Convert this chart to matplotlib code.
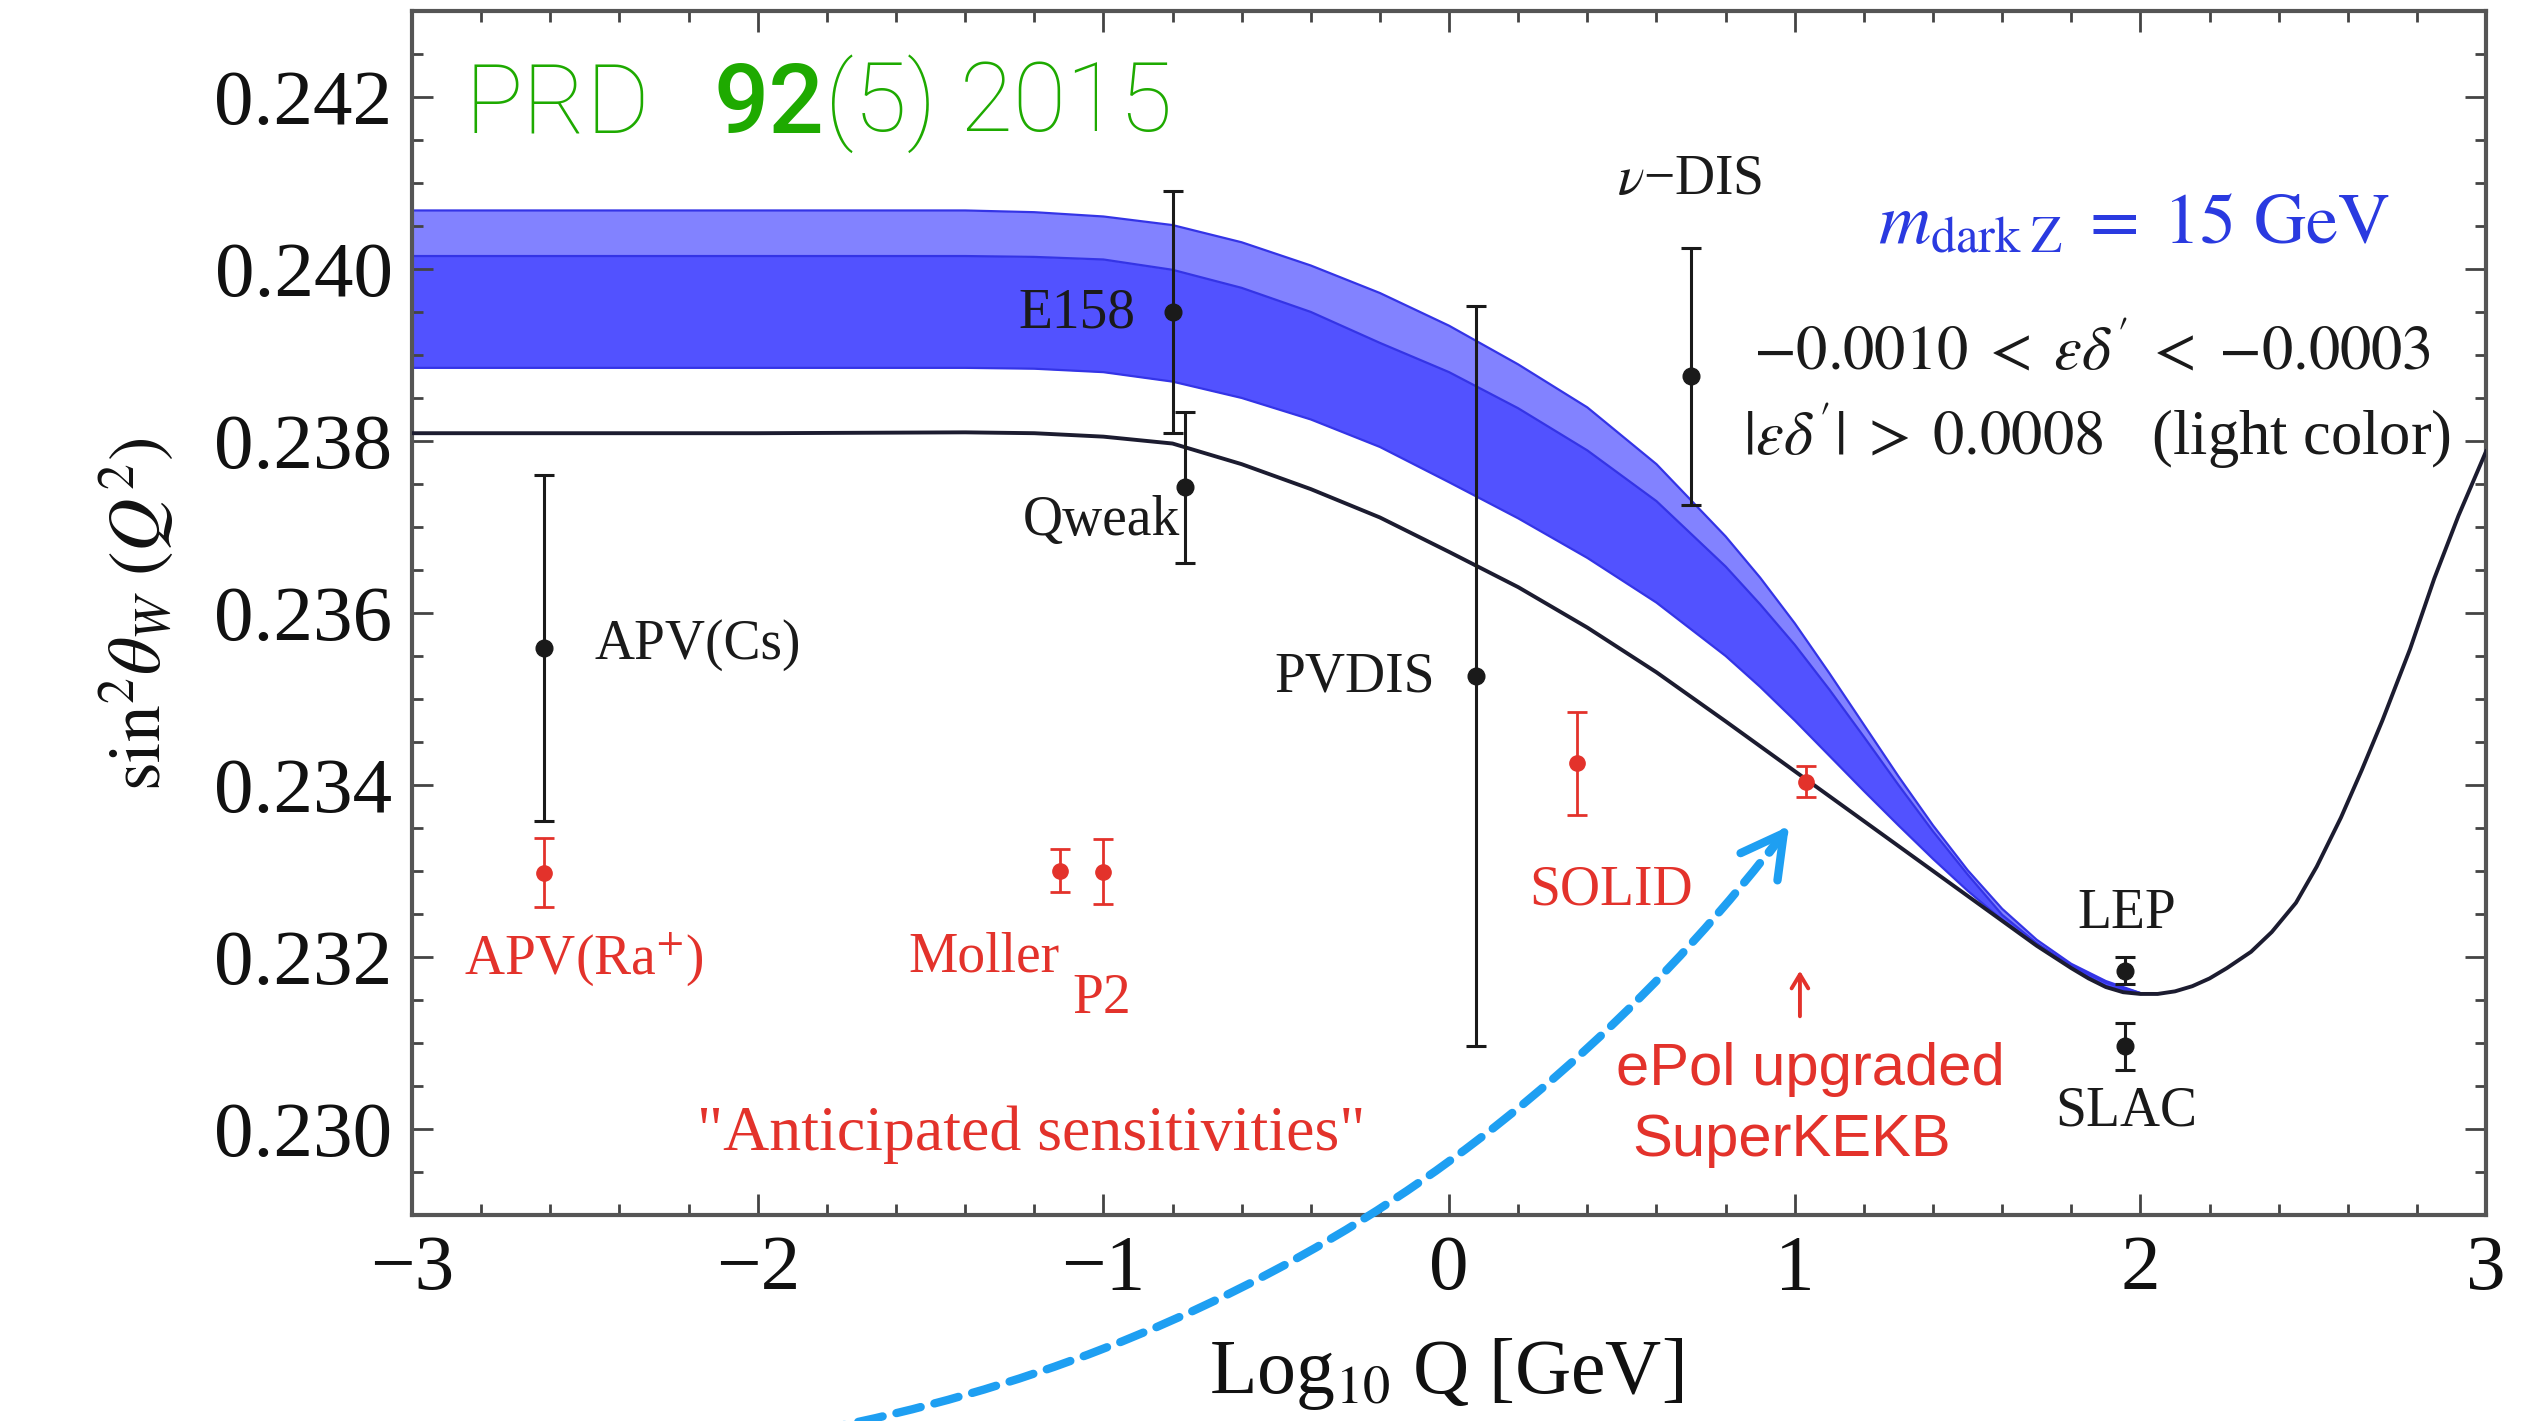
import matplotlib
matplotlib.use("Agg")
import matplotlib.pyplot as plt
from matplotlib.ticker import MultipleLocator, FormatStrFormatter

plt.rcParams["font.family"] = ["Liberation Serif", "DejaVu Serif"]
plt.rcParams["mathtext.fontset"] = "stix"
plt.rcParams["axes.unicode_minus"] = True

# ---------------- data ----------------
# Standard-model running of sin^2(theta_W) vs log10 Q
curve_x = [-3.0, -2.0, -1.4, -1.2, -1.0, -0.8, -0.6, -0.4, -0.2, 0.0, 0.2,
           0.4, 0.6, 0.8, 1.0, 1.2, 1.4, 1.6, 1.7, 1.8, 1.85, 1.9, 1.95,
           2.0, 2.05, 2.1, 2.15, 2.2, 2.25, 2.32, 2.38, 2.45, 2.51, 2.58,
           2.64, 2.70, 2.78, 2.85, 2.92, 3.0]
curve_y = [0.23809, 0.23809, 0.23810, 0.23809, 0.23805, 0.23797, 0.23773,
           0.23744, 0.23711, 0.23671, 0.23630, 0.23583, 0.23531, 0.23474,
           0.23416, 0.23358, 0.23300, 0.23242, 0.23213, 0.23187, 0.23175,
           0.23165, 0.23159, 0.23157, 0.23157, 0.23160, 0.23166, 0.23175,
           0.23187, 0.23206, 0.23229, 0.23263, 0.23305, 0.23362, 0.23417,
           0.23475, 0.23558, 0.23640, 0.23713, 0.23788]

# dark-Z band (dark colour: lower..middle, light colour: middle..upper)
band_x = [-3.0, -1.4, -1.2, -1.0, -0.8, -0.6, -0.4, -0.2, 0.0, 0.2, 0.4,
          0.6, 0.8, 0.9, 1.0, 1.1, 1.2, 1.3, 1.4, 1.5, 1.6, 1.7, 1.8, 1.9,
          2.0]
band_lo = [0.23885, 0.23885, 0.23884, 0.23880, 0.23869, 0.23850, 0.23825,
           0.23793, 0.23752, 0.23710, 0.23664, 0.23612, 0.23550, 0.23514,
           0.23475, 0.23434, 0.23393, 0.23353, 0.23314, 0.23277, 0.23243,
           0.23214, 0.23188, 0.23166, 0.23157]
band_mid = [0.24015, 0.24015, 0.24014, 0.24011, 0.23999, 0.23978, 0.23950,
            0.23914, 0.23880, 0.23838, 0.23789, 0.23730, 0.23654, 0.23610,
            0.23563, 0.23511, 0.23456, 0.23400, 0.23346, 0.23296, 0.23249,
            0.23216, 0.23190, 0.23170, 0.23158]
band_hi = [0.24068, 0.24068, 0.24066, 0.24061, 0.24051, 0.24031, 0.24004,
           0.23972, 0.23934, 0.23889, 0.23839, 0.23773, 0.23689, 0.23641,
           0.23588, 0.23530, 0.23470, 0.23410, 0.23353, 0.23301, 0.23256,
           0.23220, 0.23192, 0.23172, 0.23158]

# existing measurements (black)
meas_names = ["APV(Cs)", "E158", "Qweak", "PVDIS", "$\\nu$\u2212DIS", "LEP", "SLAC"]
meas_x = [-2.617, -0.80, -0.765, 0.079, 0.699, 1.955, 1.955]
meas_y = [0.23559, 0.23950, 0.23746, 0.23527, 0.23875, 0.23184, 0.23096]
meas_err = [0.00201, 0.00141, 0.00088, 0.00430, 0.00149, 0.00016, 0.00027]

# anticipated sensitivities (red)
fut_names = ["APV(Ra$^{+}$)", "Moller", "P2", "SOLID", "SuperKEKB"]
fut_x = [-2.617, -1.126, -1.002, 0.369, 1.032]
fut_y = [0.23298, 0.23300, 0.23299, 0.23425, 0.23404]
fut_err = [0.00040, 0.00025, 0.00038, 0.00060, 0.00018]

x_ticks = [-3, -2, -1, 0, 1, 2, 3]
y_ticks = [0.230, 0.232, 0.234, 0.236, 0.238, 0.240, 0.242]

# ---------------- figure ----------------
fig = plt.figure(figsize=(25.34, 14.21), dpi=100)
ax = fig.add_axes([0.1626, 0.145, 0.8185, 0.8473])
ax.set_xlim(-3, 3)
ax.set_ylim(0.229, 0.243)

DARK = "#5252ff"
LIGHT = "#8282ff"
EDGE = "#3434e6"
RED = "#e3322b"
BLK = "#1a1a1a"

ax.fill_between(band_x, band_mid, band_hi, color=LIGHT, lw=0, zorder=1)
ax.fill_between(band_x, band_lo, band_mid, color=DARK, lw=0, zorder=1)
for edge in (band_hi, band_mid, band_lo):
    ax.plot(band_x, edge, color=EDGE, lw=1.6, zorder=2,
            solid_joinstyle="round")

ax.plot(curve_x, curve_y, color="#1c1c30", lw=2.8, zorder=3,
        solid_joinstyle="round")

ax.errorbar(meas_x, meas_y, yerr=meas_err, fmt="o", color=BLK, ms=12,
            elinewidth=2.2, capsize=7, capthick=2.2, zorder=4)
ax.errorbar(fut_x, fut_y, yerr=fut_err, fmt="o", color=RED, ms=11,
            elinewidth=2.0, capsize=7, capthick=2.0, zorder=4)

# ---------------- axes styling ----------------
ax.set_xticks(x_ticks)
ax.set_yticks(y_ticks)
ax.xaxis.set_minor_locator(MultipleLocator(0.2))
ax.yaxis.set_minor_locator(MultipleLocator(0.0005))
ax.yaxis.set_major_formatter(FormatStrFormatter("%.3f"))
ax.tick_params(which="both", direction="in", top=True, right=True,
               color="#444444", width=2.0, labelsize=57, labelcolor="#111111")
ax.tick_params(which="major", length=15, pad=14)
ax.tick_params(which="minor", length=8)
for s in ax.spines.values():
    s.set_color("#555555")
    s.set_linewidth(3)

ax.set_xlabel(r"Log$_{10}$ Q [GeV]", fontsize=56, color="#111111")
ax.xaxis.set_label_coords(0.4986, -0.132)
ax.xaxis.label.set_va("center")
ax.set_ylabel(r"$\mathrm{sin}^2\theta_W\ (Q^2)$", fontsize=53, color="#111111")
ax.yaxis.set_label_coords(-0.1326, 0.499)
ax.yaxis.label.set_va("center")

# ---------------- labels ----------------
LBL = 40
tk = dict(fontsize=LBL, color=BLK, va="baseline", zorder=5)
ax.text(-2.471, 0.235465, meas_names[0], ha="left", **tk)
ax.text(-0.906, 0.239314, meas_names[1], ha="right", **tk)
ax.text(-0.779, 0.236907, meas_names[2], ha="right", **tk)
ax.text(-0.041, 0.235081, meas_names[3], ha="right", **tk)
ax.text(0.695, 0.240872, meas_names[4], ha="center", **tk)
ax.text(1.961, 0.232337, meas_names[5], ha="center", **tk)
ax.text(1.958, 0.230035, meas_names[6], ha="center", **tk)

tr = dict(fontsize=LBL, color=RED, va="baseline", zorder=5)
ax.text(-2.850, 0.231802, fut_names[0], ha="left", **tr)
ax.text(-1.345, 0.231826, fut_names[1], ha="center", **tr)
ax.text(-1.004, 0.231352, fut_names[2], ha="center", **tr)
ax.text(0.470, 0.232608, fut_names[3], ha="center", **tr)
ax.text(-1.21, 0.229756, "\"Anticipated sensitivities\"", ha="center",
        fontsize=46, color=RED, va="baseline")

ts = dict(fontsize=43, color=RED, va="baseline", ha="center",
          family=["Liberation Sans", "DejaVu Sans"])
ax.text(1.045, 0.230512, "ePol upgraded", **ts)
ax.text(0.990, 0.229682, fut_names[4], **ts)
ax.annotate("", xy=(1.015, 0.23184), xytext=(1.015, 0.23131),
            arrowprops=dict(arrowstyle="->,head_length=0.5,head_width=0.3",
                            color=RED, lw=2.8, shrinkA=0, shrinkB=0,
                            mutation_scale=20))

ax.text(1.241, 0.240302,
        r"$m_{\mathrm{dark}\;\mathrm{Z}}\;=\;15\ \mathrm{GeV}$",
        fontsize=52, color="#2a3ae0", ha="left", va="baseline")
ax.text(2.840, 0.238834,
        r"${-}0.0010\;<\;\varepsilon\delta'\;<\;{-}0.0003$",
        fontsize=45, color=BLK, ha="right", va="baseline")
ax.text(2.898, 0.237833,
        r"$|\varepsilon\delta'|\;>\;0.0008$   (light color)",
        fontsize=45, color=BLK, ha="right", va="baseline")

GREEN = "#1eaa00"
gk = dict(fontsize=70, color=GREEN, family=["Roboto", "DejaVu Sans"])
t1 = ax.text(-2.847, 0.24157, "PRD", va="baseline", fontweight="light", **gk)
t2 = ax.annotate("92", xy=(1, 0), xycoords=t1, xytext=(45, 0),
                 textcoords="offset points", va="bottom", fontweight="medium", **gk)
t3 = ax.annotate("(5) 2015", xy=(1, 0), xycoords=t2, xytext=(1, 0),
                 textcoords="offset points", va="bottom", fontweight="light", **gk)

# ---------------- blue dashed arrow ----------------
ARROW = "#1e9ff2"
arrow_start = (-1.82, 0.22650)
arrow_end = (0.983, 0.23352)
ax.annotate("", xy=arrow_end, xytext=arrow_start, annotation_clip=False,
            arrowprops=dict(arrowstyle="-", color=ARROW, lw=6,
                            linestyle=(0, (3.0, 1.7)), shrinkA=0, shrinkB=0,
                            connectionstyle="arc3,rad=0.19"))
ax.annotate("", xy=arrow_end, xytext=(-14, -19), textcoords="offset points",
            annotation_clip=False,
            arrowprops=dict(arrowstyle="->,head_length=1.0,head_width=0.55",
                            color=ARROW, lw=6, shrinkA=0, shrinkB=0,
                            mutation_scale=30))

fig.savefig("out.png", dpi=100)
